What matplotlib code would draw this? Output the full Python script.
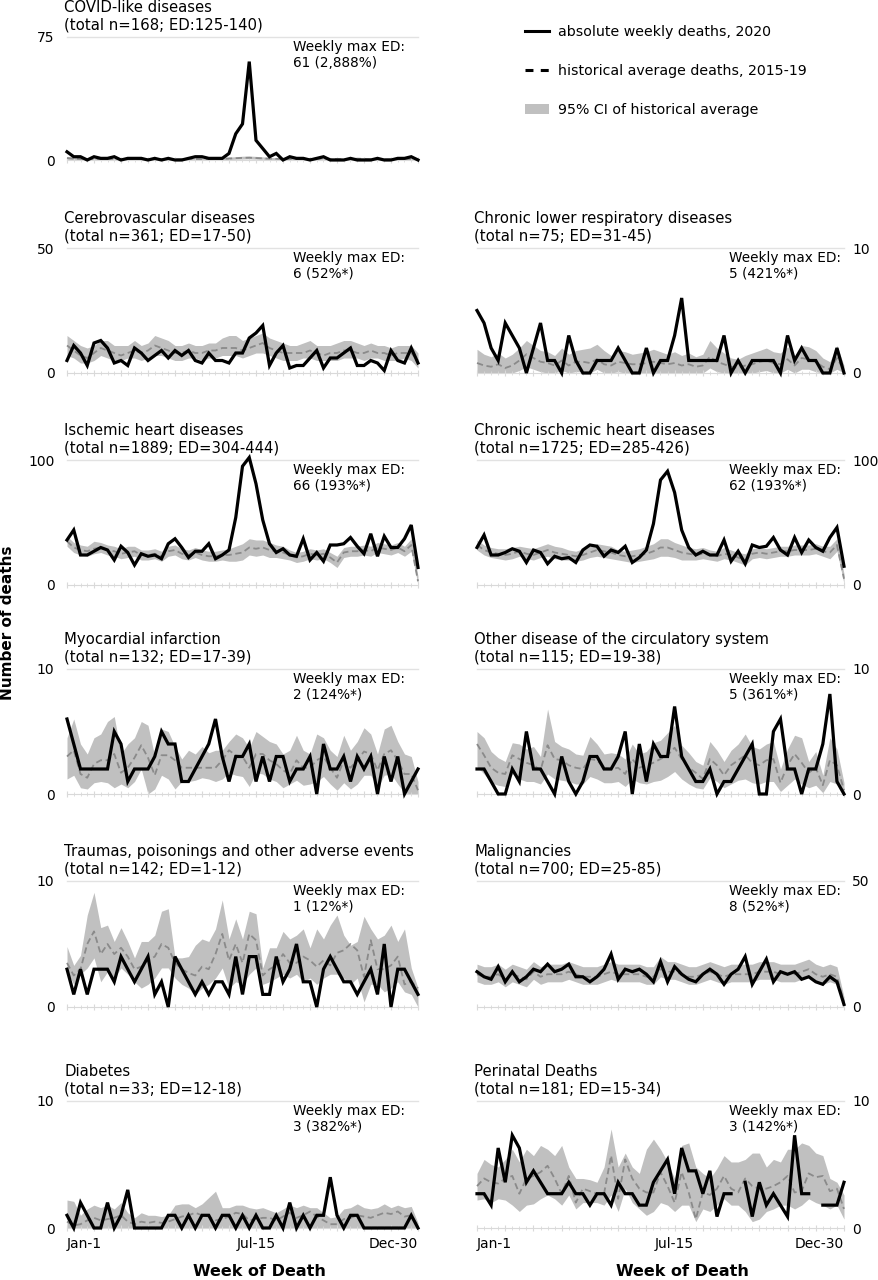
import numpy as np
import matplotlib.pyplot as plt
from matplotlib.lines import Line2D
from matplotlib.patches import Patch

weeks = np.arange(53)
tick_weeks = [0, 28, 52]
tick_names = ['Jan-1', 'Jul-15', 'Dec-30']

# COVID-like diseases
covid_obs = [5,2,2,0,2,1,1,2,0,1, 1,1,0,1,0,1,0,0,1,2, 2,1,1,1,4,16,22,60,12,7, 2,4,0,2,1,1,0,1,2,0, 0,0,1,0,0,0,1,0,0,1, 1,2,0]
covid_avg = [1.2,0.8,0.6,0.5,0.4,0.6,0.5,0.4,0.5,0.6, 0.4,0.5,0.4,0.5,0.6,0.5,0.4,0.5,0.6,0.5, 0.4,0.6,0.5,0.7,0.9,1.1,1.3,1.4,1.2,1.0, 0.8,0.7,0.6,0.5,0.6,0.5,0.7,0.8,0.9,0.7, 0.6,0.5,0.6,0.8,0.7,0.5,0.6,0.4,0.5,0.6, 0.7,0.5,0.3]
covid_lo = [0.4,0.2,0.1,0,0,0.1,0,0,0,0.1, 0,0,0,0,0.1,0,0,0,0.1,0, 0,0.1,0,0.2,0.3,0.5,0.6,0.7,0.5,0.4, 0.2,0.1,0.1,0,0.1,0,0.1,0.2,0.3,0.1, 0.1,0,0.1,0.2,0.1,0,0.1,0,0,0.1, 0.1,0,0]
covid_hi = [2.2,1.6,1.3,1.1,1.0,1.3,1.1,1.0,1.1,1.3, 1.0,1.1,1.0,1.1,1.3,1.1,1.0,1.1,1.3,1.1, 1.0,1.3,1.1,1.4,1.8,2.0,2.3,2.4,2.2,1.9, 1.6,1.4,1.3,1.1,1.3,1.1,1.4,1.8,2.1,1.5, 1.3,1.1,1.3,1.6,1.4,1.1,1.3,1.0,1.1,1.3, 1.5,1.1,0.7]

# Cerebrovascular diseases
cereb_obs = [5,11,8,3,12,13,10,4,5,3, 10,8,5,7,9,6,9,7,9,5, 4,8,5,5,4,8,8,14,16,19, 3,8,11,2,3,3,6,9,2,6, 6,8,10,3,3,5,4,1,9,5, 4,10,4]
cereb_avg = [11,9,7,6,8,10,9,8,7,8, 9,8,9,11,10,9,8,8,9,8, 8,9,9,10,10,10,9,10,11,12, 10,9,8,8,8,8,9,8,7,8, 8,9,9,8,8,9,8,8,7,8, 8,8,5]
cereb_lo = [7,6,4,4,5,7,6,5,5,6, 6,5,6,7,7,6,5,5,6,6, 5,6,6,7,7,7,6,7,8,8, 7,6,5,5,5,6,6,5,5,5, 5,6,6,6,5,6,6,5,5,5, 6,5,2]
cereb_hi = [15,13,11,10,11,13,13,11,11,11, 13,11,12,15,14,13,11,11,12,11, 11,12,12,14,15,15,13,14,15,16, 14,13,12,11,11,12,13,11,11,11, 12,13,13,12,11,12,11,11,10,11, 11,11,8]

# Chronic lower respiratory diseases
resp_obs = [5,4,2,1,4,3,2,0,2,4, 1,1,0,3,1,0,0,1,1,1, 2,1,0,0,2,0,1,1,3,6, 1,1,1,1,1,3,0,1,0,1, 1,1,1,0,3,1,2,1,1,0, 0,2,0]
resp_avg = [0.8,0.6,0.5,0.7,0.4,0.6,1.0,1.5,1.2,0.9, 0.8,0.6,1.0,0.6,0.9,0.9,0.8,1.1,0.7,0.6, 0.9,0.8,0.7,0.7,0.8,0.9,0.8,0.7,0.8,0.6, 0.7,0.5,0.6,1.3,0.9,0.7,0.5,0.4,0.6,0.7, 0.9,1.0,0.8,0.7,1.1,0.6,1.2,1.1,0.9,0.5, 0.3,1.2,0.2]
resp_lo = [0,0,0,0,0,0,0.2,0.5,0.3,0.1, 0,0,0.2,0,0.1,0.1,0,0.3,0,0, 0.1,0,0,0,0,0.1,0,0,0,0, 0,0,0,0.4,0.1,0,0,0,0,0, 0.1,0.2,0,0,0.3,0,0.3,0.3,0.1,0, 0,0.3,0]
resp_hi = [1.9,1.5,1.3,1.6,1.2,1.5,2.0,2.6,2.2,1.8, 1.7,1.4,2.0,1.5,1.8,1.9,2.0,2.3,1.8,1.4, 1.8,1.7,1.5,1.6,1.7,1.9,1.7,1.5,1.7,1.4, 1.6,1.3,1.5,2.6,2.0,1.6,1.2,1.1,1.4,1.6, 1.8,2.0,1.7,1.6,2.1,1.4,2.2,2.1,1.8,1.2, 0.9,2.2,0.6]

# Ischemic heart diseases
isch_obs = [36,44,24,24,27,30,28,20,31,26, 16,25,23,24,21,33,37,30,22,27, 27,33,21,24,28,54,95,102,81,52, 33,26,29,24,23,37,20,26,19,32, 32,33,38,31,25,41,23,39,30,30, 37,48,14]
isch_avg = [35,30,28,27,29,30,28,27,25,26, 27,24,24,25,23,27,28,25,24,26, 24,23,23,24,24,25,26,30,29,30, 28,27,26,24,22,23,25,24,25,22, 18,26,27,27,28,27,30,29,28,30, 27,32,3]
isch_lo = [31,26,24,23,25,26,24,23,21,22, 23,20,20,21,19,23,24,21,20,22, 20,19,19,20,19,19,20,24,23,24, 22,22,21,20,18,19,21,20,21,18, 14,22,23,23,24,23,26,25,24,26, 23,27,0]
isch_hi = [39,34,32,31,35,34,32,31,29,31, 31,28,28,29,27,31,32,29,28,30, 28,27,27,28,29,31,33,37,36,36, 34,32,31,28,26,27,29,28,29,26, 23,30,31,31,32,31,34,33,32,34, 31,37,7]

# Chronic ischemic heart diseases
cih_obs = [30,40,24,24,26,29,27,18,28,26, 17,23,21,22,18,28,32,31,23,28, 26,31,18,22,28,49,84,91,74,44, 30,24,27,24,24,36,19,27,17,32, 30,31,38,28,24,38,26,36,30,27, 38,46,15]
cih_avg = [32,28,26,25,24,25,27,25,24,26, 28,26,25,24,23,24,26,28,27,26, 24,23,23,24,25,27,30,30,28,26, 25,24,25,24,23,25,24,22,20,25, 26,25,26,27,27,28,28,28,29,27, 26,32,5]
cih_lo = [28,24,22,21,20,21,23,21,20,22, 23,21,20,20,19,20,22,23,22,21, 20,19,18,19,20,21,23,23,22,20, 20,20,21,20,19,21,20,18,16,21, 22,21,22,23,23,24,24,24,25,23, 21,27,1]
cih_hi = [36,32,30,29,29,30,31,30,29,31, 33,31,30,28,27,29,31,33,32,31, 28,27,28,29,31,33,37,37,34,32, 30,29,30,28,27,30,28,26,25,29, 30,29,30,31,31,32,32,32,33,31, 31,37,9]

# Myocardial infarction
mi_obs = [6,4,2,2,2,2,2,5,4,1, 2,2,2,3,5,4,4,1,1,2, 3,4,6,3,1,3,3,4,1,3, 1,3,3,1,2,2,3,0,4,2, 2,3,1,3,2,3,0,3,1,3, 0,1,2]
mi_avg = [3.0,3.5,1.6,1.3,2.4,2.7,2.7,3.2,1.7,2.1, 2.9,3.9,2.9,1.5,3.1,3.1,2.7,2.1,2.1,2.1, 2.1,2.1,2.1,2.7,3.5,3.1,3.0,2.1,3.2,3.2, 2.7,2.4,1.9,1.6,2.7,2.1,2.1,2.7,3.0,2.1, 1.3,2.7,2.1,2.7,3.4,3.2,1.9,3.2,3.5,2.7, 1.6,1.6,0.3]
mi_lo = [1.2,1.5,0.5,0.4,0.9,1.0,0.9,0.5,0.8,0.5, 1.0,2.0,0.0,0.4,1.5,1.2,0.4,1.0,1.0,1.1, 1.3,1.2,1.0,1.2,1.7,1.5,1.4,0.6,1.7,1.6, 1.2,1.0,0.5,0.8,1.1,0.7,0.8,1.0,1.4,0.8, 0.3,0.9,0.4,0.8,1.5,1.5,0.5,1.5,1.6,0.8, 0.1,0.0,0.0]
mi_hi = [4.5,6.0,4.0,3.2,4.5,4.8,5.8,6.2,3.2,4.0, 4.5,5.8,5.5,3.0,5.2,5.0,3.8,2.8,3.5,3.2, 3.8,3.3,3.5,3.5,4.2,4.8,4.5,3.7,5.0,4.6, 4.2,4.0,3.2,3.5,4.7,3.5,3.2,4.8,4.5,3.5, 3.0,4.7,3.5,4.2,5.3,4.8,3.2,5.2,5.5,4.2, 3.2,3.0,1.0]

# Other disease of the circulatory system
circ_obs = [2,2,1,0,0,2,1,5,2,2, 1,0,3,1,0,1,3,3,2,2, 3,5,0,4,1,4,3,3,7,3, 2,1,1,2,0,1,1,2,3,4, 0,0,5,6,2,2,0,2,2,4, 8,1,0]
circ_avg = [4.0,3.1,2.1,1.7,1.6,3.1,2.8,2.5,2.3,1.9, 3.9,2.8,2.7,2.3,2.1,2.0,2.8,2.7,2.1,2.0, 2.1,1.6,2.8,2.1,2.3,2.5,2.8,3.1,3.7,2.8, 2.1,1.7,1.2,2.8,2.3,1.5,2.3,2.7,3.1,2.5, 2.3,2.7,2.8,0.9,2.3,3.2,2.5,1.7,2.1,0.7, 2.7,2.3,0.3]
circ_lo = [2.2,1.6,0.9,0.7,0.6,1.6,1.2,1.0,1.0,0.8, 1.6,1.2,1.1,1.0,0.8,0.8,1.4,1.2,0.9,0.9, 1.0,0.6,1.2,0.9,0.8,1.0,1.1,1.4,1.8,1.2, 0.8,0.5,0.4,1.3,1.0,0.5,0.8,1.1,1.2,0.9, 0.8,1.0,1.0,0.2,0.7,1.2,0.8,0.5,0.7,0.1, 1.0,0.8,0.0]
circ_hi = [5.0,4.5,3.4,2.9,2.6,4.1,4.0,3.6,3.8,3.0, 6.8,4.2,3.8,3.6,3.2,3.1,4.6,4.0,3.2,3.3, 3.2,2.8,4.0,3.2,3.4,4.1,4.3,4.9,5.5,3.9, 3.3,2.6,2.3,4.2,3.5,2.6,3.5,4.0,4.8,3.8, 3.6,4.0,4.2,2.0,3.6,4.7,4.5,2.6,3.4,1.5, 4.5,3.6,0.9]

# Traumas, poisonings and other adverse events
trauma_obs = [3,1,3,1,3,3,3,2,4,3, 2,3,4,1,2,0,4,3,2,1, 2,1,2,2,1,4,1,4,4,1, 1,4,2,3,5,2,2,0,3,4, 3,2,2,1,2,3,1,5,0,3, 3,2,1]
trauma_avg = [3.5,2.5,3.0,5.0,6.0,4.2,5.0,4.2,4.7,4.0, 3.0,3.2,3.7,4.0,5.0,4.7,3.5,3.0,2.7,2.5, 3.2,3.0,4.2,5.8,3.7,5.0,3.5,5.8,5.3,2.5, 3.0,3.3,4.2,3.5,3.5,4.0,3.7,3.2,3.7,3.3, 4.3,4.5,5.0,4.5,2.4,5.3,3.0,3.0,3.3,4.0, 1.8,2.0,1.5]
trauma_lo = [2.8,1.8,2.6,3.1,3.9,2.0,2.8,2.3,3.1,2.6, 2.0,1.5,1.8,2.3,3.1,3.1,2.3,1.8,1.5,1.0, 1.5,1.8,2.3,3.1,1.5,2.0,1.8,2.6,3.1,1.8, 2.0,2.3,2.6,2.3,2.6,2.0,2.3,1.8,2.3,2.6, 2.6,2.3,1.8,2.3,0.4,1.8,1.8,1.2,1.5,2.0, 1.2,1.0,0.0]
trauma_hi = [4.8,3.3,4.1,7.3,9.1,6.3,6.5,5.2,6.3,5.2, 3.9,5.2,5.2,5.7,7.6,7.8,3.9,3.9,4.0,4.9, 5.4,5.2,6.2,8.5,5.4,7.0,5.4,7.6,7.4,3.1, 4.7,4.7,6.0,5.4,5.7,6.2,4.7,6.2,5.4,6.5, 7.3,5.7,4.9,5.2,7.2,6.2,5.4,5.7,6.5,5.2, 6.2,3.1,1.5]

# Malignancies
malig_obs = [14,12,11,16,10,14,10,12,15,14, 17,14,15,17,12,12,10,12,15,21, 11,15,14,15,13,10,18,10,16,13, 11,10,13,15,13,9,13,15,20,9, 14,19,10,14,13,14,11,12,10,9, 12,10,1]
malig_avg = [13,12,12,13,11,13,12,11,14,12, 13,13,13,14,13,12,12,12,13,14, 13,13,13,13,12,12,15,14,14,13, 12,12,13,14,13,12,13,13,13,13, 14,14,14,13,13,13,14,15,13,12, 13,12,2]
malig_lo = [10,9,9,10,8,10,9,8,11,9, 10,10,10,11,10,9,9,9,10,11, 10,10,10,10,9,9,12,11,11,10, 9,9,10,11,10,9,10,10,10,10, 11,11,11,10,10,10,11,12,10,9, 10,9,0]
malig_hi = [17,16,16,17,15,17,16,15,18,16, 17,17,17,18,17,16,16,16,17,18, 17,17,17,17,16,16,20,18,18,17, 16,16,17,18,17,16,17,17,17,17, 18,18,18,17,17,17,18,19,17,16, 17,16,4]

# Diabetes
diab_obs = [1,0,2,1,0,0,2,0,1,3, 0,0,0,0,0,1,1,0,1,0, 1,1,0,1,1,0,1,0,1,0, 0,1,0,2,0,1,0,1,1,4, 1,0,1,1,0,0,0,0,0,0, 0,1,0]
diab_avg = [0.5,0.2,0.3,0.6,0.8,0.6,0.7,0.8,1.0,0.5, 0.3,0.5,0.4,0.5,0.4,0.5,0.7,0.9,1.0,1.2, 1.0,0.9,0.6,0.7,0.9,1.2,1.1,0.6,0.7,0.8, 0.8,0.6,0.9,1.2,0.8,1.0,1.3,0.9,0.6,0.3, 0.3,0.7,0.8,1.0,0.9,0.8,1.0,1.2,1.1,1.3, 0.9,1.0,0.1]
diab_lo = [0,0,0,0,0,0,0,0,0,0, 0,0,0,0,0,0,0,0,0,0, 0,0,0,0,0,0,0,0,0,0, 0,0,0,0,0,0,0,0,0,0, 0,0,0,0,0,0,0,0,0,0, 0,0,0]
diab_hi = [2.2,2.1,1.0,1.5,1.8,1.6,1.8,1.5,2.0,1.2, 0.8,1.2,1.0,1.0,0.9,1.0,1.8,1.9,1.9,1.6, 1.9,2.4,2.9,1.6,1.6,1.8,1.8,1.6,1.5,1.6, 1.4,1.2,1.5,1.8,1.6,1.8,1.6,1.6,1.2,0.8, 0.9,1.5,1.6,1.9,1.6,1.5,1.6,1.9,1.6,1.8, 1.6,1.7,0.4]

# Perinatal deaths (gaps = missing weeks)
peri_obs = [2.7,2.7,1.8,6.3,3.6,7.3,6.3,3.6,4.5,3.6, 2.7,2.7,2.7,3.6,2.7,2.7,1.8,2.7,2.7,1.8, 3.6,2.7,2.7,1.8,1.8,3.6,4.5,5.4,2.7,6.3, 4.5,4.5,2.7,4.5,0.9,2.7,2.7,np.nan,3.6,0.9, 3.6,1.8,2.7,1.8,0.9,7.3,2.7,2.7,np.nan,1.8, 1.8,1.8,3.6]
peri_avg = [3.3,3.9,3.6,3.5,3.9,4.1,2.7,3.9,4.1,4.4, 4.9,3.9,2.7,4.1,2.0,3.1,2.9,2.7,2.7,5.7, 2.3,5.4,3.9,3.1,2.8,2.8,4.4,3.3,2.0,4.4, 2.8,0.7,2.8,2.6,3.1,4.1,3.1,2.8,3.9,3.3, 3.1,3.1,3.3,3.6,4.1,2.8,2.9,4.3,4.0,4.1, 2.9,3.1,1.5]
peri_lo = [2.2,2.3,2.0,2.3,2.2,1.8,1.3,1.8,1.9,2.3, 2.6,2.3,1.8,2.6,1.5,2.0,2.0,2.0,1.8,2.6, 1.3,3.1,2.0,1.5,1.0,1.3,2.0,1.8,1.3,1.8, 1.8,0.5,1.5,1.3,1.8,2.3,1.8,1.8,1.3,0.5, 0.7,1.3,1.5,1.8,1.8,1.5,1.8,2.3,2.0,1.8, 1.5,1.8,0.7]
peri_hi = [4.3,5.4,5.0,4.8,5.4,6.2,5.2,6.2,5.7,6.5, 6.2,5.7,6.5,4.8,3.9,3.9,3.8,3.6,4.8,7.8, 4.8,5.9,4.8,4.3,6.2,7.0,6.2,5.2,3.9,6.5, 6.7,4.8,4.3,3.9,4.7,5.7,5.2,5.2,5.4,5.9, 5.9,4.8,5.4,5.2,6.2,6.2,6.7,6.5,5.9,5.7, 3.9,3.6,2.6]

CI_COLOR = '#c0c0c0'
AVG_COLOR = '#8a8a8a'
W, H = 879, 1280

# pixel layout of the rows (top gridline, zero line)
row_top = [37, 248, 460, 669, 881, 1101]
row_bot = [160, 373, 585, 794, 1007, 1228]
col_x = [67, 477]
col_w = [351, 367]
note_x = [0.644, 0.687]


def panel(row, col, obs, avg, lo, hi, top, title, note):
    ax = fig.add_axes([col_x[col] / W, 1 - row_bot[row] / H,
                       col_w[col] / W, (row_bot[row] - row_top[row]) / H])
    ax.fill_between(weeks, lo, hi, color=CI_COLOR, lw=0, zorder=1)
    ax.plot(weeks, avg, color=AVG_COLOR, lw=1.3, ls=(0, (3.5, 2)), zorder=2, clip_on=False)
    ax.plot(weeks, obs, color='black', lw=2.3, zorder=3, clip_on=False,
            solid_joinstyle='miter')
    ax.axhline(top, color='#e2e2e2', lw=1, zorder=0, clip_on=False)
    ax.set_xlim(0, 52)
    ax.set_ylim(0, top)
    for s in ['top', 'left', 'right']:
        ax.spines[s].set_visible(False)
    ax.spines['bottom'].set_color('#d9d9d9')
    ax.set_yticks([0, top])
    ax.set_yticklabels(['0', str(top)])
    if col == 1:
        ax.yaxis.tick_right()
        ax.tick_params(axis='y', length=0, labelsize=10, pad=6)
    else:
        ax.tick_params(axis='y', length=0, labelsize=10, pad=9)
    ax.set_xticks(range(0, 53, 4))
    ax.set_xticks(range(53), minor=True)
    ax.tick_params(axis='x', which='major', length=5, direction='inout', color='#d9d9d9', pad=4)
    ax.tick_params(axis='x', which='minor', length=3, direction='inout', color='#d9d9d9')
    if row == 5:
        labs = ['' for _ in range(0, 53, 4)]
        for w, n in zip(tick_weeks, tick_names):
            labs[w // 4] = n
        ax.set_xticklabels(labs, fontsize=10)
        tl = ax.get_xticklabels()
        tl[0].set_ha('left')
        tl[-1].set_ha('right')
    else:
        ax.set_xticklabels([])
    ax.annotate(title, xy=(0, 1), xycoords='axes fraction', xytext=(-2, 3),
                textcoords='offset points', ha='left', va='bottom', fontsize=10.7)
    ax.text(note_x[col], 0.975, 'Weekly max ED:\n' + note, transform=ax.transAxes,
            ha='left', va='top', fontsize=9.8, linespacing=1.15)
    return ax


fig = plt.figure(figsize=(W / 100, H / 100), dpi=100)

panel(0, 0, covid_obs, covid_avg, covid_lo, covid_hi, 75,
      'COVID-like diseases\n(total n=168; ED:125-140)', '61 (2,888%)')
panel(1, 0, cereb_obs, cereb_avg, cereb_lo, cereb_hi, 50,
      'Cerebrovascular diseases\n(total n=361; ED=17-50)', '6 (52%*)')
panel(1, 1, resp_obs, resp_avg, resp_lo, resp_hi, 10,
      'Chronic lower respiratory diseases\n(total n=75; ED=31-45)', '5 (421%*)')
panel(2, 0, isch_obs, isch_avg, isch_lo, isch_hi, 100,
      'Ischemic heart diseases\n(total n=1889; ED=304-444)', '66 (193%*)')
panel(2, 1, cih_obs, cih_avg, cih_lo, cih_hi, 100,
      'Chronic ischemic heart diseases\n(total n=1725; ED=285-426)', '62 (193%*)')
panel(3, 0, mi_obs, mi_avg, mi_lo, mi_hi, 10,
      'Myocardial infarction\n(total n=132; ED=17-39)', '2 (124%*)')
panel(3, 1, circ_obs, circ_avg, circ_lo, circ_hi, 10,
      'Other disease of the circulatory system\n(total n=115; ED=19-38)', '5 (361%*)')
panel(4, 0, trauma_obs, trauma_avg, trauma_lo, trauma_hi, 10,
      'Traumas, poisonings and other adverse events\n(total n=142; ED=1-12)', '1 (12%*)')
panel(4, 1, malig_obs, malig_avg, malig_lo, malig_hi, 50,
      'Malignancies\n(total n=700; ED=25-85)', '8 (52%*)')
panel(5, 0, diab_obs, diab_avg, diab_lo, diab_hi, 10,
      'Diabetes\n(total n=33; ED=12-18)', '3 (382%*)')
panel(5, 1, peri_obs, peri_avg, peri_lo, peri_hi, 10,
      'Perinatal Deaths\n(total n=181; ED=15-34)', '3 (142%*)')

handles = [Line2D([], [], color='black', lw=2.2),
           Line2D([], [], color='black', lw=2.2, ls=(0, (2.6, 2.4))),
           Patch(facecolor=CI_COLOR, edgecolor='none')]
labels = ['absolute weekly deaths, 2020', 'historical average deaths, 2015-19',
          '95% CI of historical average']
fig.legend(handles, labels, loc='upper left', bbox_to_anchor=(525 / W, 1 - 25 / H),
           frameon=False, fontsize=10.2, handlelength=1.7, handletextpad=0.6,
           labelspacing=1.75, borderpad=0, borderaxespad=0)

fig.text(8 / W, 1 - 623 / H, 'Number of deaths', rotation=90, ha='center', va='center',
         fontsize=11, fontweight='bold')
fig.text(259 / W, 1 - 1271 / H, 'Week of Death', ha='center', va='center',
         fontsize=11.5, fontweight='bold')
fig.text(682 / W, 1 - 1271 / H, 'Week of Death', ha='center', va='center',
         fontsize=11.5, fontweight='bold')

fig.savefig('out.png', dpi=100)
